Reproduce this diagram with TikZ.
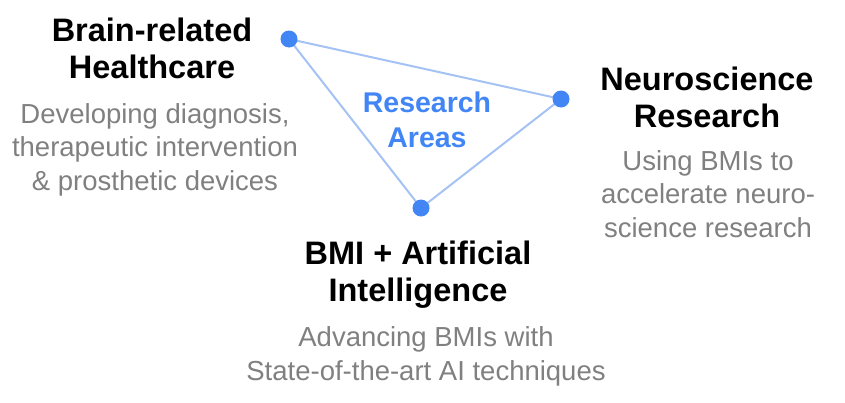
\documentclass[tikz,border=0pt]{standalone}
\usepackage{fontspec}
\setmainfont{Liberation Sans}
\usetikzlibrary{calc}
\definecolor{dotblue}{HTML}{4285F4}
\definecolor{edgeblue}{HTML}{A4C2F4}
\definecolor{subgray}{HTML}{808080}

\begin{document}
\begin{tikzpicture}[x=1pt,y=-1pt,
    title/.style={align=center,anchor=base,inner sep=0pt,font=\fontsize{32.5}{37}\selectfont\bfseries},
    blurb/.style={align=center,anchor=base,inner sep=0pt,text=subgray,font=\fontsize{27.5}{33.5}\selectfont},
    hub/.style={align=center,anchor=base,inner sep=0pt,text=dotblue,font=\fontsize{28.5}{35}\selectfont\bfseries}]
        \useasboundingbox (0,0) rectangle (845,402);
        % corners of the triangle
        \coordinate (pa) at (289,39);
        \coordinate (pb) at (561,99);
        \coordinate (pc) at (421,208);
        \draw[edgeblue, line width=2pt, line join=round] (pa) -- (pb) -- (pc) -- cycle;
        \foreach \p in {pa,pb,pc}
        \fill[dotblue] (\p) circle (8.5pt);
        \node[hub] (areas) at (427,147) {Research\\Areas};
        % three areas (base = last line)
        \node[title] (health) at (152,78) {Brain-related\\Healthcare};
        \node[blurb] (healthtxt) at (155,190) {Developing diagnosis,\\therapeutic intervention\\\& prosthetic devices};
        \node[title] (neuro) at (707,127) {Neuroscience\\Research};
        \node[blurb] (neurotxt) at (708,237) {Using BMIs to\\accelerate neuro-\\science research};
        \node[title] (bmi) at (418,301) {BMI + Artificial\\Intelligence};
        \node[blurb] (bmitxt) at (426,380) {Advancing BMIs with\\State-of-the-art AI techniques};
    \end{tikzpicture}
\end{document}
